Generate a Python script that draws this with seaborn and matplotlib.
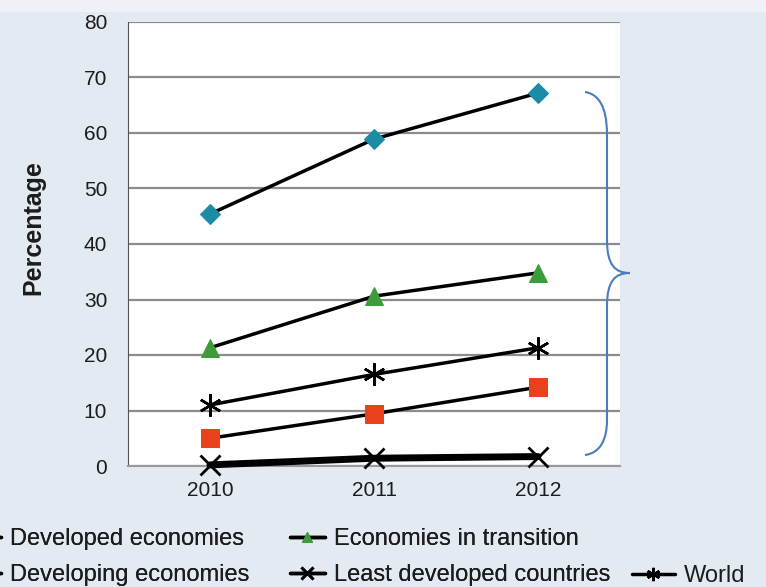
import matplotlib as mpl
import seaborn as sns
import pandas as pd
import numpy as np
from matplotlib.path import Path
from matplotlib.patches import PathPatch, Rectangle

plt = mpl.pyplot

# Datos
years = [2010, 2011, 2012]
developed = [45.4, 58.9, 67.2]
developing = [5.0, 9.4, 14.2]
transition = [21.3, 30.6, 34.8]
least_developed = [0.2, 1.4, 1.7]
world = [11.0, 16.5, 21.3]
yticks = [0, 10, 20, 30, 40, 50, 60, 70, 80]

BG = '#e4eaf2'
FONT = ['Liberation Sans', 'DejaVu Sans']
TXT = '#1c1c1c'

sns.set_style("white")
mpl.rcParams['font.family'] = FONT

fig = plt.figure(figsize=(7.66, 5.87), dpi=100, facecolor=BG)
# franja superior mas clara
fig.patches.append(Rectangle((0, 1 - 12/587), 1, 12/587, transform=fig.transFigure,
                             facecolor='#eef2f7', edgecolor='none', zorder=0))
ax = fig.add_axes([128/766, 1 - 466/587, (620-128)/766, (466-22)/587])
ax.set_facecolor('white')

series = [
    ('Developed economies', developed, dict(marker='D', ms=10, mfc='#1a8ca6', mec='#1a8ca6', lw=2.5)),
    ('Developing economies', developing, dict(marker='s', ms=13, mfc='#e8411c', mec='#e8411c', lw=2.5)),
    ('Economies in transition', transition, dict(marker='^', ms=13, mfc='#3d9c3a', mec='#3d9c3a', lw=2.5)),
    ('Least developed countries', least_developed, dict(marker='x', ms=14, mew=2, mfc='black', mec='black', lw=5)),
    ('World', world, dict(marker=(6, 2, 0), ms=16, mew=1.8, mfc='black', mec='black', lw=2.5)),
]
for name, vals, kw in series:
    df = pd.DataFrame({'Year': years, 'Value': vals})
    sns.lineplot(x='Year', y='Value', data=df, ax=ax, color='black', label=name,
                 clip_on=False, zorder=3, **kw)

ax.set_xlim(2009.5, 2012.5)
ax.set_ylim(0, 80)
ax.set_yticks(yticks)
ax.set_xticks(years)
ax.set_xticks([2009.5, 2010.5, 2011.5, 2012.5], minor=True)
ax.yaxis.grid(True, color='#8c8c8c', lw=1.6)
ax.set_axisbelow(True)
for s in ['top', 'right']:
    ax.spines[s].set_visible(False)
ax.spines['left'].set_color('#555555')
ax.spines['bottom'].set_color('#999999')
ax.spines['bottom'].set_linewidth(1.5)
ax.tick_params(axis='y', direction='out', length=8, color='#555555', labelsize=15, pad=7,
               labelcolor=TXT)
ax.tick_params(axis='x', which='major', length=0, labelsize=15, pad=11, labelcolor=TXT)
ax.tick_params(axis='x', which='minor', direction='in', length=5, color='#999999')
ax.set_xlabel('')
ax.set_ylabel('Percentage', fontsize=18, fontweight='bold', color=TXT)
ax.yaxis.set_label_coords(-0.168, 0.536)

handles, labels = ax.get_legend_handles_labels()
ax.legend_.remove()
leg_kw = dict(frameon=False, fontsize=17, handletextpad=0.4, labelspacing=0.6,
              borderpad=0, borderaxespad=0, markerscale=0.6, labelcolor=TXT)
leg1 = fig.legend(handles[:4], labels[:4], ncol=2, loc='upper left',
                  bbox_to_anchor=(-0.0455, 1 - 528/587), handlelength=1.5,
                  columnspacing=1.7, **leg_kw)
leg2 = fig.legend(handles[4:], labels[4:], ncol=1, loc='upper left',
                  bbox_to_anchor=(632/766, 1 - 565/587), handlelength=1.8, **leg_kw)
fig.add_artist(leg1)
for lg in (leg1, leg2):
    for h in lg.legend_handles:
        h.set_linewidth(2.5)

# Llave azul a la derecha
def fp(x, y):
    return (x / 766, 1 - y / 587)

verts = [fp(585, 92), fp(605, 95), fp(607, 120), fp(607, 135),
         fp(607, 240),
         fp(607, 265), fp(615, 273), fp(630, 273),
         fp(615, 273), fp(607, 281), fp(607, 306),
         fp(607, 420),
         fp(607, 440), fp(600, 453), fp(585, 455)]
codes = [Path.MOVETO, Path.CURVE4, Path.CURVE4, Path.CURVE4,
         Path.LINETO,
         Path.CURVE4, Path.CURVE4, Path.CURVE4,
         Path.CURVE4, Path.CURVE4, Path.CURVE4,
         Path.LINETO,
         Path.CURVE4, Path.CURVE4, Path.CURVE4]
brace = PathPatch(Path(verts, codes), transform=fig.transFigure, fill=False,
                  edgecolor='#4a7cc0', lw=1.5)
fig.patches.append(brace)

plt.savefig('out.png', dpi=100, facecolor=BG)
